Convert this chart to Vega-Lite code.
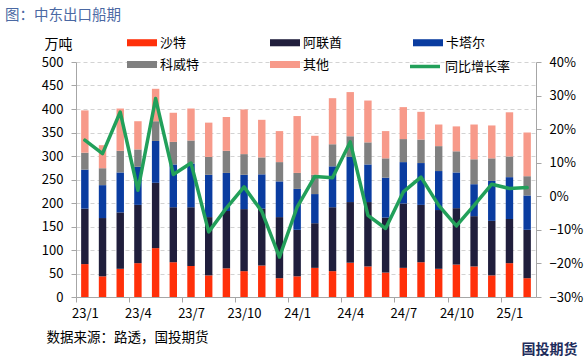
{
  "$schema": "https://vega.github.io/schema/vega-lite/v6.json",
  "width": 460,
  "height": 235,
  "autosize": {"type": "none"},
  "padding": {"left": 76, "top": 62, "right": 51, "bottom": 62},
  "background": "white",
  "config": {
    "font": "Noto Sans CJK SC",
    "view": {"stroke": null},
    "axis": {"labelFont": "Noto Sans CJK SC", "titleFont": "Noto Sans CJK SC"}
  },
  "title": {
    "text": "图：中东出口船期",
    "anchor": "start",
    "frame": "group",
    "dx": -71,
    "fontSize": 14.5,
    "fontWeight": "normal",
    "color": "#4a68a3",
    "offset": 12
  },
  "datasets": {
    "bars": [
      {"month":"23/1","region":"沙特","k":1,"v":70},{"month":"23/1","region":"阿联酋","k":2,"v":118},{"month":"23/1","region":"卡塔尔","k":3,"v":83},{"month":"23/1","region":"科威特","k":4,"v":36},{"month":"23/1","region":"其他","k":5,"v":90},
      {"month":"23/2","region":"沙特","k":1,"v":44},{"month":"23/2","region":"阿联酋","k":2,"v":124},{"month":"23/2","region":"卡塔尔","k":3,"v":70},{"month":"23/2","region":"科威特","k":4,"v":36},{"month":"23/2","region":"其他","k":5,"v":49},
      {"month":"23/3","region":"沙特","k":1,"v":60},{"month":"23/3","region":"阿联酋","k":2,"v":120},{"month":"23/3","region":"卡塔尔","k":3,"v":85},{"month":"23/3","region":"科威特","k":4,"v":46},{"month":"23/3","region":"其他","k":5,"v":90},
      {"month":"23/4","region":"沙特","k":1,"v":72},{"month":"23/4","region":"阿联酋","k":2,"v":124},{"month":"23/4","region":"卡塔尔","k":3,"v":81},{"month":"23/4","region":"科威特","k":4,"v":37},{"month":"23/4","region":"其他","k":5,"v":60},
      {"month":"23/5","region":"沙特","k":1,"v":104},{"month":"23/5","region":"阿联酋","k":2,"v":139},{"month":"23/5","region":"卡塔尔","k":3,"v":89},{"month":"23/5","region":"科威特","k":4,"v":42},{"month":"23/5","region":"其他","k":5,"v":69},
      {"month":"23/6","region":"沙特","k":1,"v":74},{"month":"23/6","region":"阿联酋","k":2,"v":117},{"month":"23/6","region":"卡塔尔","k":3,"v":91},{"month":"23/6","region":"科威特","k":4,"v":48},{"month":"23/6","region":"其他","k":5,"v":62},
      {"month":"23/7","region":"沙特","k":1,"v":66},{"month":"23/7","region":"阿联酋","k":2,"v":125},{"month":"23/7","region":"卡塔尔","k":3,"v":93},{"month":"23/7","region":"科威特","k":4,"v":49},{"month":"23/7","region":"其他","k":5,"v":68},
      {"month":"23/8","region":"沙特","k":1,"v":46},{"month":"23/8","region":"阿联酋","k":2,"v":124},{"month":"23/8","region":"卡塔尔","k":3,"v":90},{"month":"23/8","region":"科威特","k":4,"v":38},{"month":"23/8","region":"其他","k":5,"v":73},
      {"month":"23/9","region":"沙特","k":1,"v":61},{"month":"23/9","region":"阿联酋","k":2,"v":122},{"month":"23/9","region":"卡塔尔","k":3,"v":81},{"month":"23/9","region":"科威特","k":4,"v":47},{"month":"23/9","region":"其他","k":5,"v":72},
      {"month":"23/10","region":"沙特","k":1,"v":55},{"month":"23/10","region":"阿联酋","k":2,"v":132},{"month":"23/10","region":"卡塔尔","k":3,"v":73},{"month":"23/10","region":"科威特","k":4,"v":44},{"month":"23/10","region":"其他","k":5,"v":95},
      {"month":"23/11","region":"沙特","k":1,"v":67},{"month":"23/11","region":"阿联酋","k":2,"v":121},{"month":"23/11","region":"卡塔尔","k":3,"v":73},{"month":"23/11","region":"科威特","k":4,"v":36},{"month":"23/11","region":"其他","k":5,"v":80},
      {"month":"23/12","region":"沙特","k":1,"v":40},{"month":"23/12","region":"阿联酋","k":2,"v":130},{"month":"23/12","region":"卡塔尔","k":3,"v":76},{"month":"23/12","region":"科威特","k":4,"v":41},{"month":"23/12","region":"其他","k":5,"v":66},
      {"month":"24/1","region":"沙特","k":1,"v":44},{"month":"24/1","region":"阿联酋","k":2,"v":99},{"month":"24/1","region":"卡塔尔","k":3,"v":87},{"month":"24/1","region":"科威特","k":4,"v":34},{"month":"24/1","region":"其他","k":5,"v":121},
      {"month":"24/2","region":"沙特","k":1,"v":62},{"month":"24/2","region":"阿联酋","k":2,"v":95},{"month":"24/2","region":"卡塔尔","k":3,"v":62},{"month":"24/2","region":"科威特","k":4,"v":41},{"month":"24/2","region":"其他","k":5,"v":83},
      {"month":"24/3","region":"沙特","k":1,"v":55},{"month":"24/3","region":"阿联酋","k":2,"v":136},{"month":"24/3","region":"卡塔尔","k":3,"v":87},{"month":"24/3","region":"科威特","k":4,"v":47},{"month":"24/3","region":"其他","k":5,"v":98},
      {"month":"24/4","region":"沙特","k":1,"v":73},{"month":"24/4","region":"阿联酋","k":2,"v":129},{"month":"24/4","region":"卡塔尔","k":3,"v":96},{"month":"24/4","region":"科威特","k":4,"v":44},{"month":"24/4","region":"其他","k":5,"v":94},
      {"month":"24/5","region":"沙特","k":1,"v":65},{"month":"24/5","region":"阿联酋","k":2,"v":137},{"month":"24/5","region":"卡塔尔","k":3,"v":80},{"month":"24/5","region":"科威特","k":4,"v":47},{"month":"24/5","region":"其他","k":5,"v":89},
      {"month":"24/6","region":"沙特","k":1,"v":52},{"month":"24/6","region":"阿联酋","k":2,"v":117},{"month":"24/6","region":"卡塔尔","k":3,"v":85},{"month":"24/6","region":"科威特","k":4,"v":41},{"month":"24/6","region":"其他","k":5,"v":58},
      {"month":"24/7","region":"沙特","k":1,"v":62},{"month":"24/7","region":"阿联酋","k":2,"v":137},{"month":"24/7","region":"卡塔尔","k":3,"v":88},{"month":"24/7","region":"科威特","k":4,"v":49},{"month":"24/7","region":"其他","k":5,"v":68},
      {"month":"24/8","region":"沙特","k":1,"v":74},{"month":"24/8","region":"阿联酋","k":2,"v":122},{"month":"24/8","region":"卡塔尔","k":3,"v":89},{"month":"24/8","region":"科威特","k":4,"v":50},{"month":"24/8","region":"其他","k":5,"v":59},
      {"month":"24/9","region":"沙特","k":1,"v":60},{"month":"24/9","region":"阿联酋","k":2,"v":125},{"month":"24/9","region":"卡塔尔","k":3,"v":83},{"month":"24/9","region":"科威特","k":4,"v":53},{"month":"24/9","region":"其他","k":5,"v":46},
      {"month":"24/10","region":"沙特","k":1,"v":69},{"month":"24/10","region":"阿联酋","k":2,"v":120},{"month":"24/10","region":"卡塔尔","k":3,"v":76},{"month":"24/10","region":"科威特","k":4,"v":45},{"month":"24/10","region":"其他","k":5,"v":53},
      {"month":"24/11","region":"沙特","k":1,"v":65},{"month":"24/11","region":"阿联酋","k":2,"v":107},{"month":"24/11","region":"卡塔尔","k":3,"v":68},{"month":"24/11","region":"科威特","k":4,"v":53},{"month":"24/11","region":"其他","k":5,"v":74},
      {"month":"24/12","region":"沙特","k":1,"v":46},{"month":"24/12","region":"阿联酋","k":2,"v":116},{"month":"24/12","region":"卡塔尔","k":3,"v":85},{"month":"24/12","region":"科威特","k":4,"v":48},{"month":"24/12","region":"其他","k":5,"v":70},
      {"month":"25/1","region":"沙特","k":1,"v":72},{"month":"25/1","region":"阿联酋","k":2,"v":94},{"month":"25/1","region":"卡塔尔","k":3,"v":89},{"month":"25/1","region":"科威特","k":4,"v":44},{"month":"25/1","region":"其他","k":5,"v":94},
      {"month":"25/2","region":"沙特","k":1,"v":40},{"month":"25/2","region":"阿联酋","k":2,"v":103},{"month":"25/2","region":"卡塔尔","k":3,"v":73},{"month":"25/2","region":"科威特","k":4,"v":41},{"month":"25/2","region":"其他","k":5,"v":93}
    ],
    "yoy": [
      {"month":"23/1","yoy":0.167},{"month":"23/2","yoy":0.127},{"month":"23/3","yoy":0.251},{"month":"23/4","yoy":0.018},
      {"month":"23/5","yoy":0.291},{"month":"23/6","yoy":0.065},{"month":"23/7","yoy":0.099},{"month":"23/8","yoy":-0.106},
      {"month":"23/9","yoy":-0.035},{"month":"23/10","yoy":0.028},{"month":"23/11","yoy":-0.045},{"month":"23/12","yoy":-0.181},
      {"month":"24/1","yoy":-0.032},{"month":"24/2","yoy":0.059},{"month":"24/3","yoy":0.055},{"month":"24/4","yoy":0.162},
      {"month":"24/5","yoy":-0.057},{"month":"24/6","yoy":-0.096},{"month":"24/7","yoy":0.013},{"month":"24/8","yoy":0.057},
      {"month":"24/9","yoy":-0.027},{"month":"24/10","yoy":-0.088},{"month":"24/11","yoy":-0.027},{"month":"24/12","yoy":0.036},
      {"month":"25/1","yoy":0.023},{"month":"25/2","yoy":0.026}
    ]
  },
  "layer": [
    {
      "data": {"name": "bars"},
      "mark": {"type": "bar"},
      "encoding": {
        "x": {
          "field": "month",
          "type": "ordinal",
          "sort": null,
          "scale": {
            "domain": ["23/1","23/2","23/3","23/4","23/5","23/6","23/7","23/8","23/9","23/10","23/11","23/12","24/1","24/2","24/3","24/4","24/5","24/6","24/7","24/8","24/9","24/10","24/11","24/12","25/1","25/2"],
            "paddingInner": 0.58,
            "paddingOuter": 0.29
          },
          "axis": {
            "values": ["23/1","23/4","23/7","23/10","24/1","24/4","24/7","24/10","25/1"],
            "tickOffset": -8.846,
            "labelOffset": 8.846,
            "labelAngle": 0,
            "labelFontSize": 13,
            "labelColor": "#000000",
            "labelPadding": 5,
            "tickSize": 5,
            "tickColor": "#a6a6a6",
            "domainColor": "#a6a6a6",
            "grid": false,
            "title": "数据来源：路透，国投期货",
            "titleX": -30,
            "titleY": 40,
            "titleAlign": "left",
            "titleBaseline": "middle",
            "titleFontSize": 13.5,
            "titleFontWeight": "normal",
            "titleColor": "#000000"
          }
        },
        "y": {
          "field": "v",
          "type": "quantitative",
          "stack": "zero",
          "scale": {"domain": [0, 500], "nice": false},
          "axis": {
            "values": [0,50,100,150,200,250,300,350,400,450,500],
            "grid": true,
            "gridDash": [4, 3],
            "gridColor": "#d3d3d3",
            "domainColor": "#a6a6a6",
            "tickColor": "#a6a6a6",
            "tickSize": 5,
            "labelFontSize": 13,
            "labelColor": "#000000",
            "labelPadding": 8,
            "title": "万吨",
            "titleAngle": 0,
            "titleX": -18,
            "titleY": -18,
            "titleAlign": "center",
            "titleBaseline": "middle",
            "titleFontSize": 14,
            "titleFontWeight": "normal",
            "titleColor": "#000000"
          }
        },
        "color": {
          "field": "region",
          "type": "nominal",
          "scale": {
            "domain": ["沙特","阿联酋","卡塔尔","科威特","其他"],
            "range": ["#ff300a","#201e3c","#0a3ca0","#808080","#f79a8a"]
          },
          "legend": {
            "orient": "none",
            "legendX": 51,
            "legendY": -27,
            "direction": "horizontal",
            "columns": 3,
            "title": null,
            "padding": 0,
            "symbolType": "M-1,-0.47L3,-0.47L3,0.47L-1,0.47Z",
            "symbolSize": 225,
            "symbolStrokeWidth": 0,
            "labelOffset": 18,
            "labelFontSize": 13,
            "labelColor": "#000000",
            "columnPadding": 70,
            "rowPadding": 7
          }
        },
        "order": {"field": "k", "type": "quantitative"}
      }
    },
    {
      "data": {"name": "yoy"},
      "mark": {"type": "line", "strokeWidth": 3.5, "strokeJoin": "round", "strokeCap": "round"},
      "encoding": {
        "x": {"field": "month", "type": "ordinal", "sort": null},
        "y": {
          "field": "yoy",
          "type": "quantitative",
          "scale": {"domain": [-0.3, 0.4], "nice": false},
          "axis": {
            "orient": "right",
            "values": [-0.3,-0.2,-0.1,0,0.1,0.2,0.3,0.4],
            "format": ".0%",
            "grid": false,
            "domainColor": "#a6a6a6",
            "tickColor": "#a6a6a6",
            "tickSize": 5,
            "labelFontSize": 13,
            "labelColor": "#000000",
            "labelPadding": 8,
            "title": "国投期货",
            "titleAngle": 0,
            "titleX": 13,
            "titleY": 287,
            "titleAlign": "center",
            "titleBaseline": "middle",
            "titleFontSize": 14,
            "titleFontWeight": "bold",
            "titleColor": "#1f2d5c"
          }
        },
        "stroke": {
          "datum": "同比增长率",
          "scale": {"range": ["#22a05a"]},
          "legend": {
            "orient": "none",
            "legendX": 332,
            "legendY": -5,
            "title": null,
            "padding": 0,
            "symbolType": "M-1,0L3,0",
            "symbolSize": 225,
            "symbolStrokeWidth": 3.5,
            "labelOffset": 18,
            "labelFontSize": 13,
            "labelColor": "#000000"
          }
        }
      }
    }
  ],
  "resolve": {"scale": {"y": "independent"}}
}
